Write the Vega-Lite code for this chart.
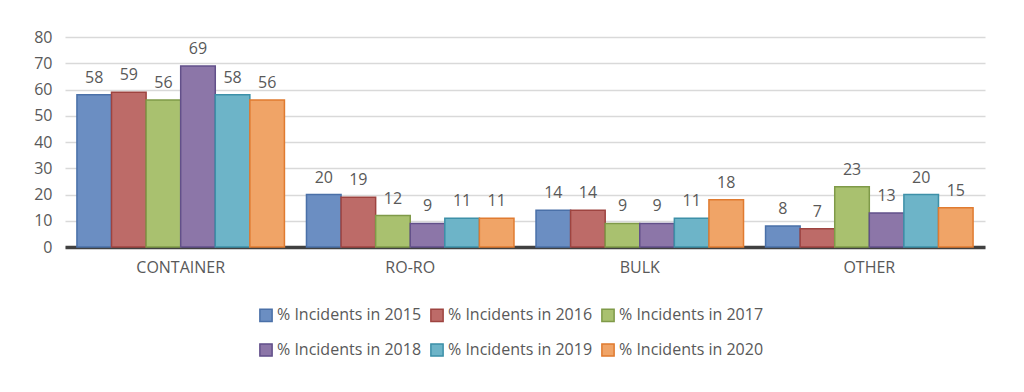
{
  "$schema": "https://vega.github.io/schema/vega-lite/v6.json",
  "autosize": {"type": "none"},
  "width": 920,
  "height": 210,
  "padding": {"left": 65, "top": 37, "right": 39, "bottom": 145},
  "background": "white",
  "config": {
    "font": "Open Sans",
    "view": {"stroke": null}
  },
  "data": {
    "values": [
      {"type": "CONTAINER", "series": "% Incidents in 2015", "value": 58},
      {"type": "CONTAINER", "series": "% Incidents in 2016", "value": 59},
      {"type": "CONTAINER", "series": "% Incidents in 2017", "value": 56},
      {"type": "CONTAINER", "series": "% Incidents in 2018", "value": 69},
      {"type": "CONTAINER", "series": "% Incidents in 2019", "value": 58},
      {"type": "CONTAINER", "series": "% Incidents in 2020", "value": 56},
      {"type": "RO-RO", "series": "% Incidents in 2015", "value": 20},
      {"type": "RO-RO", "series": "% Incidents in 2016", "value": 19},
      {"type": "RO-RO", "series": "% Incidents in 2017", "value": 12},
      {"type": "RO-RO", "series": "% Incidents in 2018", "value": 9},
      {"type": "RO-RO", "series": "% Incidents in 2019", "value": 11},
      {"type": "RO-RO", "series": "% Incidents in 2020", "value": 11},
      {"type": "BULK", "series": "% Incidents in 2015", "value": 14},
      {"type": "BULK", "series": "% Incidents in 2016", "value": 14},
      {"type": "BULK", "series": "% Incidents in 2017", "value": 9},
      {"type": "BULK", "series": "% Incidents in 2018", "value": 9},
      {"type": "BULK", "series": "% Incidents in 2019", "value": 11},
      {"type": "BULK", "series": "% Incidents in 2020", "value": 18},
      {"type": "OTHER", "series": "% Incidents in 2015", "value": 8},
      {"type": "OTHER", "series": "% Incidents in 2016", "value": 7},
      {"type": "OTHER", "series": "% Incidents in 2017", "value": 23},
      {"type": "OTHER", "series": "% Incidents in 2018", "value": 13},
      {"type": "OTHER", "series": "% Incidents in 2019", "value": 20},
      {"type": "OTHER", "series": "% Incidents in 2020", "value": 15}
    ]
  },
  "encoding": {
    "x": {
      "field": "type", "type": "nominal", "sort": ["CONTAINER", "RO-RO", "BULK", "OTHER"],
      "scale": {"paddingInner": 0.096, "paddingOuter": 0.052},
      "axis": {"title": null, "labelAngle": 0, "labelFontSize": 16, "labelColor": "#595959", "labelPadding": 12, "ticks": false, "domainColor": "#404040", "domainWidth": 3.5, "grid": false}
    },
    "xOffset": {"field": "series", "type": "nominal", "scale": {"paddingInner": 0, "paddingOuter": 0}},
    "y": {
      "field": "value", "type": "quantitative",
      "scale": {"domain": [0, 80], "nice": false},
      "axis": {"title": null, "values": [0,10,20,30,40,50,60,70,80], "labelFontSize": 16, "labelColor": "#595959", "labelPadding": 13, "ticks": false, "domain": false, "gridColor": "#d9d9d9", "gridWidth": 1.5}
    }
  },
  "layer": [
    {
      "mark": {"type": "bar", "strokeWidth": 1.5},
      "encoding": {
        "color": {
          "field": "series", "type": "nominal",
          "scale": {"range": ["#6b8ec2", "#bd6b68", "#a9c16f", "#8c76a8", "#6db4c8", "#f0a467"]},
          "legend": {
            "title": null, "orient": "none", "legendX": 193, "legendY": 270,
            "direction": "horizontal", "columns": 3, "symbolType": "square", "symbolSize": 150,
            "symbolStrokeWidth": 1.5, "labelFontSize": 16, "labelColor": "#595959", "labelOffset": 3,
            "columnPadding": 5, "rowPadding": 15, "labelLimit": 300
          }
        },
        "stroke": {
          "field": "series", "type": "nominal",
          "scale": {"range": ["#4a70a8", "#9e4440", "#7f9a48", "#62508a", "#3d90a8", "#e07b30"]},
          "legend": null
        }
      }
    },
    {
      "mark": {"type": "text", "dy": -9, "baseline": "bottom", "fontSize": 16, "color": "#595959"},
      "encoding": {"text": {"field": "value", "type": "quantitative"}}
    }
  ]
}
